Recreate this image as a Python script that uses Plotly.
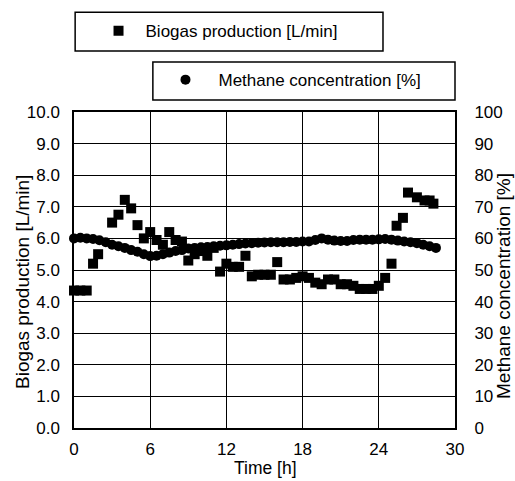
import plotly.graph_objects as go

# Biogas production [L/min]
biogas_time = [0.0, 0.5, 1.0, 1.5, 1.9, 3.0, 3.5, 4.0, 4.5, 5.0, 5.5, 6.0, 6.5, 7.0, 7.5,
               8.0, 8.5, 9.0, 9.5, 10.0, 10.5, 11.0, 11.5, 12.0, 12.5, 13.0, 13.5, 14.0,
               14.5, 15.0, 15.5, 16.0, 16.5, 17.0, 17.5, 18.0, 18.5, 19.0, 19.5, 20.0,
               20.5, 21.0, 21.5, 22.0, 22.5, 23.0, 23.5, 24.0, 24.5, 25.0, 25.4, 25.9,
               26.3, 27.0, 27.6, 28.0, 28.3]
biogas_value = [4.35, 4.35, 4.35, 5.2, 5.5, 6.5, 6.75, 7.22, 6.95, 6.42, 6.0, 6.2, 5.95, 5.8,
                6.2, 5.95, 5.9, 5.3, 5.5, 5.6, 5.45, 5.7, 4.95, 5.2, 5.1, 5.1, 5.45, 4.8,
                4.85, 4.85, 4.85, 5.25, 4.7, 4.7, 4.75, 4.8, 4.75, 4.6, 4.55, 4.7,
                4.7, 4.55, 4.55, 4.5, 4.4, 4.4, 4.4, 4.5, 4.75, 5.2, 6.4, 6.65,
                7.45, 7.3, 7.2, 7.2, 7.1]

# Methane concentration [%]
methane_time = [0.0, 0.5, 1.0, 1.5, 2.0, 2.5, 3.0, 3.5, 4.0, 4.5, 5.0, 5.5, 6.0, 6.5, 7.0,
                7.5, 8.0, 8.5, 9.0, 9.5, 10.0, 10.5, 11.0, 11.5, 12.0, 12.5, 13.0, 13.5,
                14.0, 14.5, 15.0, 15.5, 16.0, 16.5, 17.0, 17.5, 18.0, 18.5, 19.0, 19.5,
                20.0, 20.5, 21.0, 21.5, 22.0, 22.5, 23.0, 23.5, 24.0, 24.5, 25.0, 25.5,
                26.0, 26.5, 27.0, 27.5, 28.0, 28.5]
methane_value = [60.0, 60.2, 60.0, 59.8, 59.4, 58.8, 58.0, 57.5, 57.0, 56.3, 55.8, 55.0,
                 54.4, 54.5, 55.0, 55.5, 56.0, 56.3, 56.8, 57.0, 57.2, 57.3, 57.5, 57.7,
                 57.8, 58.0, 58.2, 58.4, 58.5, 58.6, 58.7, 58.8, 58.8, 58.8, 58.9, 58.9,
                 59.0, 59.0, 59.5, 60.0, 59.6, 59.3, 59.2, 59.2, 59.5, 59.6, 59.6, 59.6,
                 59.7, 59.8, 59.6, 59.3, 59.0, 58.8, 58.5, 58.0, 57.5, 57.0]

x_ticks = [0, 6, 12, 18, 24, 30]

FONT = "Liberation Sans, Arial, sans-serif"
CLEAR = "rgba(0,0,0,0)"

fig = go.Figure()
fig.add_trace(go.Scatter(
    x=biogas_time, y=biogas_value, mode="markers", name="Biogas production [L/min]",
    marker=dict(symbol="square", size=10, color="black"),
    legend="legend", yaxis="y", cliponaxis=False))
fig.add_trace(go.Scatter(
    x=methane_time, y=methane_value, mode="markers", name="Methane concentration [%]",
    marker=dict(symbol="circle", size=10, color="black"),
    legend="legend2", yaxis="y2", cliponaxis=False))

fig.update_layout(
    width=515, height=481,
    margin=dict(l=74, r=60, t=112, b=53, pad=0),
    paper_bgcolor="white", plot_bgcolor="white",
    font=dict(family=FONT, size=17, color="black"),
    showlegend=True,
    xaxis=dict(
        range=[0, 30], tickvals=x_ticks, ticktext=[str(v) for v in x_ticks],
        showgrid=True, gridcolor="black", gridwidth=1,
        showline=True, linecolor="black", linewidth=1.5, mirror=True,
        zeroline=False, ticks="outside", ticklen=5, tickcolor=CLEAR, automargin=False,
    ),
    yaxis=dict(
        range=[0, 10], dtick=1, tickformat=".1f",
        showgrid=True, gridcolor="black", gridwidth=1,
        showline=True, linecolor="black", linewidth=1.5, mirror=True,
        zeroline=False, ticks="outside", ticklen=9, tickcolor=CLEAR, automargin=False,
    ),
    yaxis2=dict(
        range=[0, 100], dtick=10, overlaying="y", side="right",
        showgrid=False, showline=False, zeroline=False,
        ticks="outside", ticklen=15, tickcolor=CLEAR, automargin=False,
    ),
    legend=dict(
        x=0.046, y=1.256, xanchor="left", yanchor="middle", orientation="h",
        itemwidth=44, bgcolor=CLEAR, borderwidth=0, font=dict(size=17),
    ),
    legend2=dict(
        x=0.206, y=1.101, xanchor="left", yanchor="middle", orientation="h",
        itemwidth=56, bgcolor=CLEAR, borderwidth=0, font=dict(size=17),
    ),
    shapes=[
        dict(type="rect", xref="paper", yref="paper", x0=0.003, x1=0.811, y0=1.193, y1=1.316,
             line=dict(color="black", width=1.5), fillcolor=CLEAR),
        dict(type="rect", xref="paper", yref="paper", x0=0.207, x1=1.0, y0=1.038, y1=1.158,
             line=dict(color="black", width=1.5), fillcolor=CLEAR),
    ],
    annotations=[
        dict(text="Time [h]", xref="paper", yref="paper",
             x=(265 - 74) / 381, y=(428 - 468) / 316, xanchor="center", yanchor="middle",
             showarrow=False, font=dict(size=17.5)),
        dict(text="Biogas production [L/min]", textangle=-90, xref="paper", yref="paper",
             x=(22 - 74) / 381, y=(428 - 282) / 316, xanchor="center", yanchor="middle",
             showarrow=False, font=dict(size=19)),
        dict(text="Methane concentration [%]", textangle=-90, xref="paper", yref="paper",
             x=(503 - 74) / 381, y=(428 - 286) / 316, xanchor="center", yanchor="middle",
             showarrow=False, font=dict(size=19)),
    ],
)

fig.write_html("out.html")
